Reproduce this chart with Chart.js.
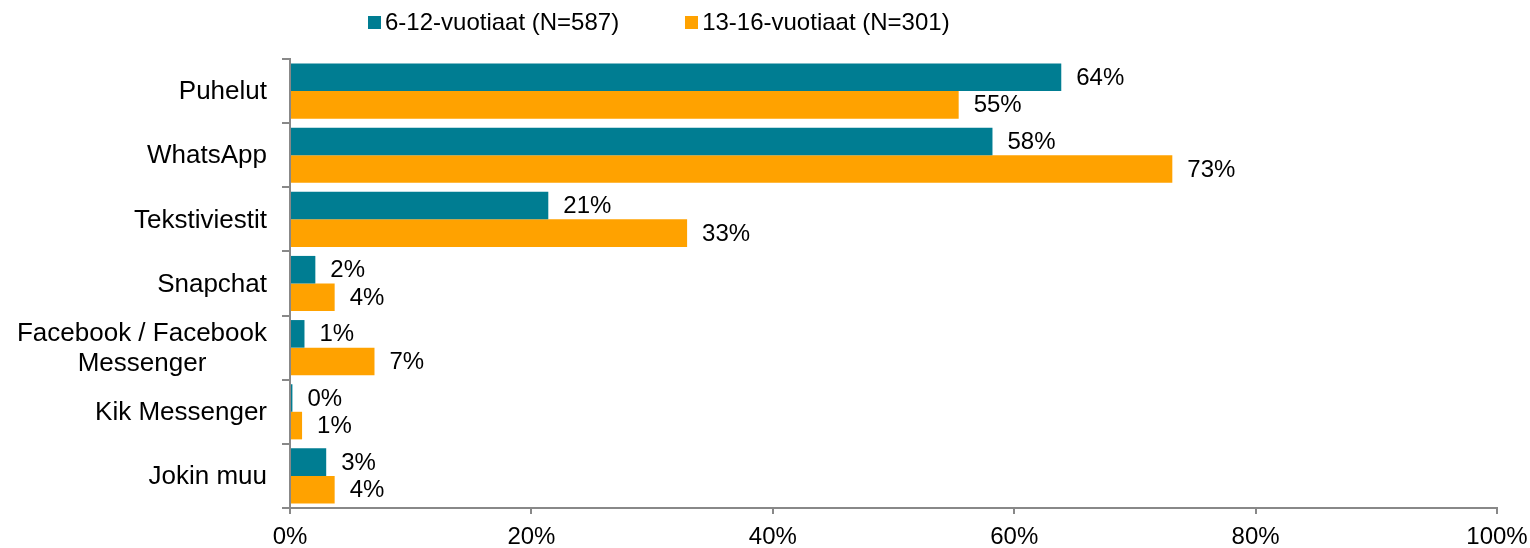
<!DOCTYPE html>
<html>
<head>
<meta charset="utf-8">
<script src="https://cdn.jsdelivr.net/npm/chart.js@4"></script>
<style>
  html, body { margin: 0; padding: 0; background: #fff; }
  #wrap { position: relative; width: 1530px; height: 548px; }
  #legend { position: absolute; top: 8px; left: 368px; font: 24px "Liberation Sans", Arial, sans-serif; color: #000; white-space: nowrap; }
  #legend span.item { display: inline-block; margin-right: 66px; }
  #legend span.box { display: inline-block; width: 13px; height: 13px; margin-right: 4px; vertical-align: 1px; }
</style>
</head>
<body>
<div id="wrap">
  <canvas id="c" width="1530" height="548"></canvas>
  <div id="legend"></div>
</div>
<script>
const categories = ['Puhelut', 'WhatsApp', 'Tekstiviestit', 'Snapchat', ['Facebook / Facebook', 'Messenger'], 'Kik Messenger', 'Jokin muu'];
const seriesNames = ['6-12-vuotiaat (N=587)', '13-16-vuotiaat (N=301)'];
const kids6to12 = [63.9, 58.2, 21.4, 2.1, 1.2, 0.2, 3.0];
const teens13to16 = [55.4, 73.1, 32.9, 3.7, 7.0, 1.0, 3.7];
const xTickValues = [0, 20, 40, 60, 80, 100];

const colors = ['#007D92', '#FFA200'];
const FONT = '"Liberation Sans", Arial, sans-serif';

const valueLabels = {
  id: 'valueLabels',
  afterDatasetsDraw(chart) {
    const ctx = chart.ctx;
    ctx.save();
    ctx.font = '24px ' + FONT;
    ctx.fillStyle = '#000';
    ctx.textAlign = 'left';
    ctx.textBaseline = 'middle';
    chart.data.datasets.forEach((ds, di) => {
      const meta = chart.getDatasetMeta(di);
      meta.data.forEach((el, i) => {
        ctx.fillText(Math.round(ds.data[i]) + '%', el.x + 15, el.y + 1);
      });
    });
    ctx.restore();
  }
};

const yLabels = {
  id: 'yLabels',
  afterDraw(chart) {
    const ctx = chart.ctx;
    const ys = chart.scales.y;
    const right = chart.chartArea.left - 23;
    ctx.save();
    ctx.font = '26px ' + FONT;
    ctx.fillStyle = '#000';
    ctx.textAlign = 'center';
    ctx.textBaseline = 'middle';
    chart.data.labels.forEach((lab, i) => {
      const lines = Array.isArray(lab) ? lab : [lab];
      const maxW = Math.max(...lines.map(l => ctx.measureText(l).width));
      const cx = right - maxW / 2;
      const lh = 30;
      const y0 = ys.getPixelForValue(i) - (lines.length - 1) * lh / 2;
      lines.forEach((l, k) => ctx.fillText(l, cx, y0 + k * lh + 1));
    });
    ctx.restore();
  }
};

const chart = new Chart(document.getElementById('c'), {
  type: 'bar',
  data: {
    labels: categories,
    datasets: [
      { label: seriesNames[0], data: kids6to12, backgroundColor: colors[0], categoryPercentage: 0.86, barPercentage: 1.0 },
      { label: seriesNames[1], data: teens13to16, backgroundColor: colors[1], categoryPercentage: 0.86, barPercentage: 1.0 }
    ]
  },
  options: {
    indexAxis: 'y',
    responsive: false,
    animation: false,
    devicePixelRatio: 1,
    layout: { padding: { top: 59, right: 0, left: 0, bottom: 0 } },
    plugins: { legend: { display: false }, tooltip: { enabled: false } },
    scales: {
      x: {
        min: 0, max: 100,
        afterBuildTicks: s => { s.ticks = xTickValues.map(v => ({ value: v })); },
        afterFit: s => { s.height = 40; s.paddingRight = 33; s.paddingLeft = 0; },
        ticks: { color: '#000', font: { family: FONT, size: 24 }, padding: 9, callback: v => v + '%', maxRotation: 0 },
        grid: { drawOnChartArea: false, drawTicks: true, tickLength: 6, color: '#888', lineWidth: 2 },
        border: { color: '#888', width: 2 }
      },
      y: {
        afterFit: s => { s.width = 290; },
        ticks: { display: false },
        grid: { drawOnChartArea: false, drawTicks: true, tickLength: 8, color: '#888', lineWidth: 2, offset: true },
        border: { color: '#888', width: 2 }
      }
    }
  },
  plugins: [valueLabels, yLabels]
});

const legend = document.getElementById('legend');
chart.data.datasets.forEach(ds => {
  const item = document.createElement('span');
  item.className = 'item';
  const box = document.createElement('span');
  box.className = 'box';
  box.style.background = ds.backgroundColor;
  item.appendChild(box);
  item.appendChild(document.createTextNode(ds.label));
  legend.appendChild(item);
});
</script>
</body>
</html>
